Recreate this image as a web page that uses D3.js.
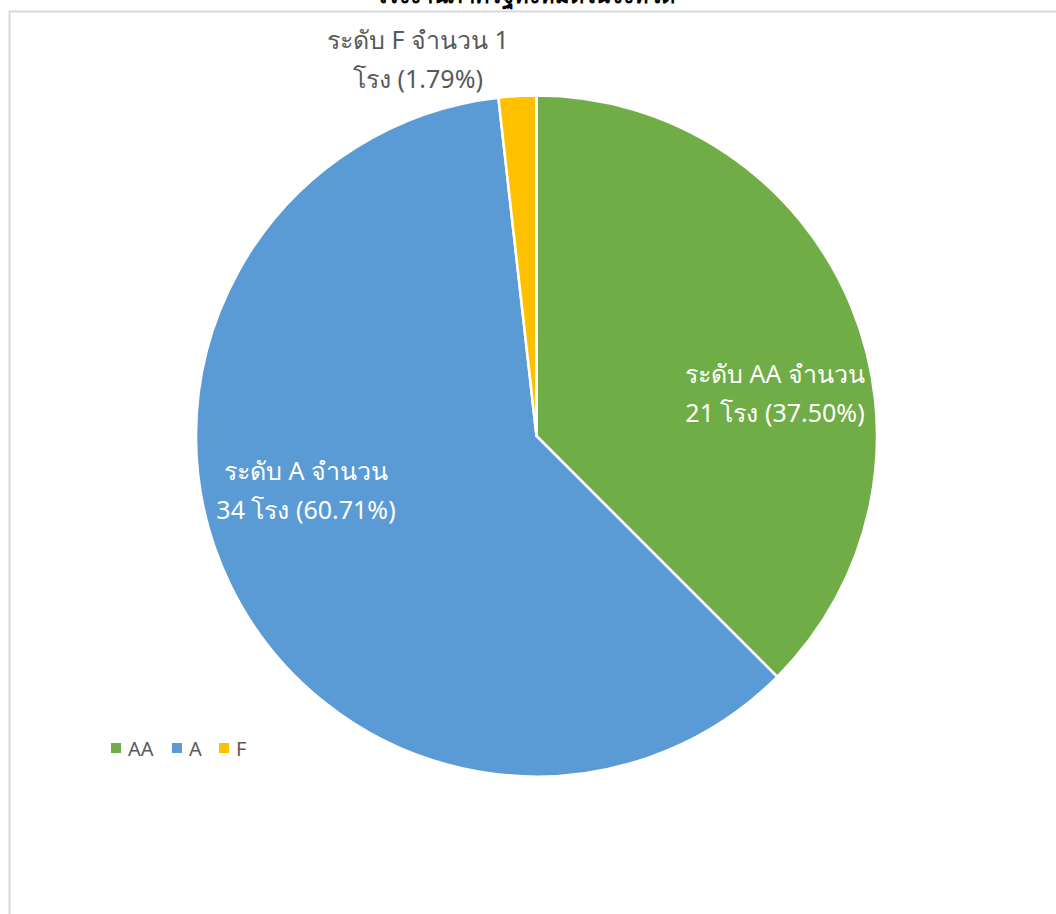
<!DOCTYPE html>
<html>
<head>
<meta charset="utf-8">
<script src="https://cdn.jsdelivr.net/npm/d3@7"></script>
<style>
  html, body { margin: 0; padding: 0; background: #fff; overflow: hidden; }
  svg { display: block; font-family: "Noto Sans", "Open Sans", sans-serif; }
</style>
</head>
<body>
<svg id="chart" width="1056" height="914"></svg>
<script>
const titleText = "โรงงานภาครัฐทั้งหมดในจังหวัด";
const categories = ["AA", "A", "F"];
const values = [21, 34, 1];
const colors = ["#70AD47", "#5B9BD5", "#FFC000"];

const svg = d3.select("#chart");
const cx = 536.5, cy = 436, R = 340.5;
const total = d3.sum(values);
const data = categories.map((c, i) => ({ cat: c, value: values[i], color: colors[i] }));

// frame (cut at right/bottom)
svg.append("rect")
  .attr("x", 9.5).attr("y", 11.5)
  .attr("width", 1100).attr("height", 1000)
  .attr("fill", "none").attr("stroke", "#d9d9d9").attr("stroke-width", 2);

// title (mostly above the visible area, as in the reference)
svg.append("text")
  .attr("x", 525).attr("y", 3)
  .attr("text-anchor", "middle")
  .attr("font-size", 22).attr("font-weight", "bold").attr("fill", "#000")
  .text(titleText);

const pie = d3.pie().sort(null).value(d => d.value).startAngle(0).endAngle(2 * Math.PI);
const arcs = pie(data);
const arc = d3.arc().innerRadius(0).outerRadius(R);

const g = svg.append("g").attr("transform", `translate(${cx},${cy})`);
g.selectAll("path").data(arcs).enter().append("path")
  .attr("d", arc)
  .attr("fill", d => d.data.color)
  .attr("stroke", "#fff").attr("stroke-width", 2.5).attr("stroke-linejoin", "round");

const fmt = d3.format(".2%");
// label anchor (centre x, first baseline y) for each slice
const labelAt = {
  "AA": { x: 775, y: 383, fill: "#fff" },
  "A":  { x: 306, y: 480, fill: "#fff" },
  "F":  { x: 418, y: 49,  fill: "#595959" }
};
const lineGap = 39;
arcs.forEach(d => {
  const c = d.data.cat;
  const lines = c === "F"
    ? [`ระดับ ${c} จำนวน ${d.value}`, `โรง (${fmt(d.value / total)})`]
    : [`ระดับ ${c} จำนวน`, `${d.value} โรง (${fmt(d.value / total)})`];
  const L = labelAt[c];
  const t = svg.append("text")
    .attr("text-anchor", "middle")
    .attr("font-size", 25)
    .attr("fill", L.fill);
  lines.forEach((ln, i) => {
    t.append("tspan").attr("x", L.x).attr("y", L.y + i * lineGap).text(ln);
  });
});

// legend
const legend = svg.append("g").attr("transform", "translate(111,748)");
const offsets = [0, 61, 108];
categories.forEach((c, i) => {
  const lg = legend.append("g").attr("transform", `translate(${offsets[i]},0)`);
  lg.append("rect").attr("x", 0).attr("y", -5).attr("width", 10).attr("height", 10).attr("fill", colors[i]);
  lg.append("text").attr("x", 17).attr("y", 7.5).attr("font-size", 20).attr("fill", "#595959").text(c);
});
</script>
</body>
</html>
